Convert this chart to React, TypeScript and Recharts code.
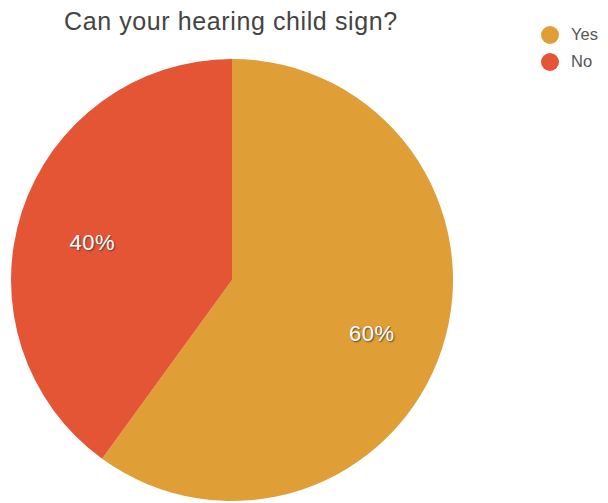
import React from 'react';
import { PieChart, Pie, Cell, Legend } from 'recharts';

const categories = ['Yes', 'No'];
const values = [60, 40];
const colors = ['#E09E36', '#E45536'];
const title = 'Can your hearing child sign?';

const data = categories.map((name, i) => ({ name, value: values[i] }));

const RADIAN = Math.PI / 180;

const renderLabel = (props: any) => {
  const { cx, cy, midAngle, outerRadius, percent } = props;
  const r = outerRadius * 0.665;
  const x = cx + r * Math.cos(-midAngle * RADIAN);
  const y = cy + r * Math.sin(-midAngle * RADIAN) + 8;
  return (
    <text
      x={x}
      y={y}
      fill="#ffffff"
      textAnchor="middle"
      dominantBaseline="central"
      fontFamily="'Liberation Sans', Arial, sans-serif"
      fontSize={22}
      letterSpacing={0.5}
      style={{ textShadow: '1px 1px 1.5px rgba(50,50,50,0.8)' }}
    >
      {`${Math.round(percent * 100)}%`}
    </text>
  );
};

const renderLegend = () => (
  <div style={{ fontFamily: "'Liberation Sans', Arial, sans-serif" }}>
    {categories.map((c, i) => (
      <div key={c} style={{ display: 'flex', alignItems: 'center', height: 27 }}>
        <span
          style={{
            display: 'inline-block',
            width: 18,
            height: 18,
            borderRadius: 9,
            background: colors[i],
            marginRight: 12,
          }}
        />
        <span style={{ fontSize: 16.5, color: '#555' }}>{c}</span>
      </div>
    ))}
  </div>
);

export default function App() {
  return (
    <div style={{ position: 'absolute', left: 0, top: 0, width: 608, height: 503, background: '#fff', overflow: 'hidden' }}>
      <div
        style={{
          position: 'absolute',
          left: 64,
          top: 7,
          fontFamily: "'Liberation Sans', Arial, sans-serif",
          fontSize: 25,
          letterSpacing: 0.6,
          color: '#444',
          whiteSpace: 'nowrap',
        }}
      >
        {title}
      </div>
      <PieChart width={608} height={503} margin={{ top: 0, right: 0, bottom: 0, left: 0 }}>
        <Pie
          data={data}
          dataKey="value"
          nameKey="name"
          cx={232}
          cy={280}
          outerRadius={221}
          innerRadius={0}
          startAngle={90}
          endAngle={-270}
          stroke="none"
          label={renderLabel}
          labelLine={false}
          isAnimationActive={false}
        >
          {data.map((d, i) => (
            <Cell key={d.name} fill={colors[i]} />
          ))}
        </Pie>
        <Legend
          content={renderLegend}
          layout="vertical"
          verticalAlign="top"
          align="right"
          wrapperStyle={{ position: 'absolute', left: 541, top: 21, width: 67 }}
        />
      </PieChart>
    </div>
  );
}
